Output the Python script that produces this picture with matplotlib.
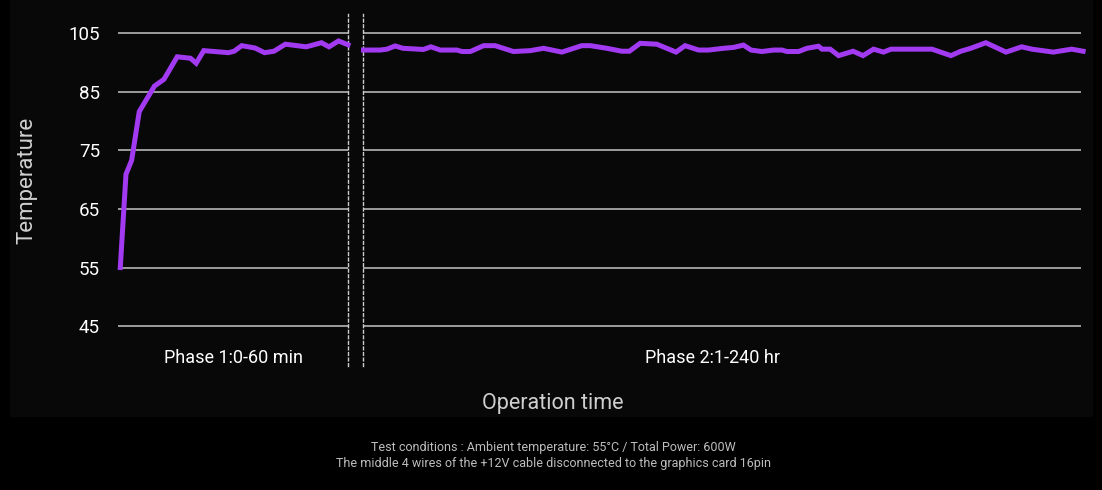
import matplotlib
matplotlib.use("Agg")
import matplotlib.pyplot as plt
import numpy as np
from matplotlib.patches import Rectangle

# data
phase1_min = [0, 1.5, 3, 5, 9, 11.5, 15, 18.5, 20, 22, 28.5, 30, 32, 35.5,
              38, 40.5, 43.5, 49, 53, 55, 57.5, 60]
phase1_temp = [55, 70.9, 73.3, 81.6, 86.9, 89.2, 96.9, 96.4, 94.7, 99.0, 98.3,
               98.8, 100.7, 99.9, 98.3, 98.8, 101.2, 100.3, 101.7, 100.3,
               102.3, 101.0]

phase2_hr = [1, 6.5, 8.8, 11.5, 14.1, 20.9, 23.4, 26.5, 32, 33.7, 36.5, 40.9,
             44.7, 50.8, 56.4, 60.8, 66.9, 73.5, 76.3, 81.8, 86.8, 89.3, 92.9,
             98.4, 104.8, 107.8, 112.3, 115.6, 120.6, 123.9, 127.2, 129.7,
             133.3, 137.2, 140, 141.6, 145.5, 148.3, 152.1, 153.3, 156,
             158.8, 163.6, 166.9, 170.4, 173.7, 176.2, 189.8, 196.1, 199.4,
             202.7, 207.7, 214.4, 219.6, 223, 230.1, 236.2, 240]
phase2_temp = [99.2, 99.2, 99.5, 100.6, 99.8, 99.4, 100.3, 99.2, 99.2, 98.7,
               98.7, 100.7, 100.7, 98.7, 99.0, 99.8, 98.5, 100.7, 100.7, 99.8,
               98.8, 98.8, 101.5, 101.2, 98.5, 100.7, 99.2, 99.2, 99.8, 100.1,
               100.9, 99.2, 98.7, 99.2, 99.2, 98.7, 98.7, 99.8, 100.5, 99.5,
               99.5, 97.3, 98.8, 97.3, 99.5, 98.5, 99.5, 99.5, 97.3, 98.8,
               99.8, 101.7, 98.5, 100.3, 99.5, 98.5, 99.5, 98.8]

y_ticks = [45, 55, 65, 75, 85, 105]
phase_labels = ["Phase 1:0-60 min", "Phase 2:1-240 hr"]
x_title = "Operation time"
y_title = "Temperature"
footnote = ("Test conditions : Ambient temperature: 55°C / Total Power: 600W\n"
            "The middle 4 wires of the +12V cable disconnected to the graphics card 16pin")

LINE = "#a23af2"
GRID = "#a8a8a8"
FONT = ["Liberation Sans Narrow", "Roboto", "DejaVu Sans"]
plt.rcParams["font.family"] = FONT


# y axis is evenly spaced per tick, so 85 -> 105 takes the same room as 10 degrees
def fwd(y):
    y = np.asarray(y, dtype=float)
    return np.where(y <= 85, (y - 45) / 10, 4 + (y - 85) / 20)


def inv(t):
    t = np.asarray(t, dtype=float)
    return np.where(t <= 4, 45 + 10 * t, 85 + 20 * (t - 4))


W, H = 1102, 490
fig = plt.figure(figsize=(W / 100, H / 100), dpi=100, facecolor="black")
fig.patches.append(Rectangle((10 / W, 1 - 416 / H), 1082 / W, 416 / H,
                             transform=fig.transFigure, color="#080808",
                             zorder=-5))

bottom, height = 1 - 366 / H, 352 / H
ax1 = fig.add_axes([118 / W, bottom, 230 / W, height])
ax2 = fig.add_axes([363.5 / W, bottom, 717.5 / W, height])

for ax in (ax1, ax2):
    ax.set_zorder(2)
    ax.set_facecolor("none")
    ax.set_yscale("function", functions=(fwd, inv))
    ax.set_ylim(38.2, 111.5)
    ax.set_yticks(y_ticks)
    ax.grid(axis="y", color=GRID, lw=1.3)
    ax.set_axisbelow(True)
    ax.set_xticks([])
    ax.tick_params(axis="y", length=0)
    for s in ax.spines.values():
        s.set_visible(False)

ax1.plot(phase1_min, phase1_temp, color=LINE, lw=3.6, solid_joinstyle="miter",
         clip_on=False, zorder=3)
ax1.set_xlim(-0.6, 60)
ax1.set_yticklabels([str(v) for v in y_ticks])
ax1.tick_params(axis="y", pad=13, labelsize=13.5, labelcolor="white")
ax1.set_ylabel(y_title, color="#d0d0d0", fontsize=16)
ax1.yaxis.set_label_coords(-0.35, 0.528)
ax1.spines["right"].set_visible(True)
ax1.spines["right"].set_linestyle((0, (2, 2)))
ax1.spines["right"].set_color("#cccccc")
ax1.spines["right"].set_linewidth(1)

ax2.plot(phase2_hr, phase2_temp, color=LINE, lw=3.6, solid_joinstyle="miter",
         clip_on=False, zorder=3)
ax2.set_xlim(1, 239.3)
ax2.tick_params(axis="y", labelleft=False)
ax2.spines["left"].set_visible(True)
ax2.spines["left"].set_linestyle((0, (2, 2)))
ax2.spines["left"].set_color("#cccccc")
ax2.spines["left"].set_linewidth(1)

ax1.text(0.5, 8 / 352, phase_labels[0], transform=ax1.transAxes,
         ha="center", va="center", color="white", fontsize=13)
ax2.text(0.486, 8 / 352, phase_labels[1], transform=ax2.transAxes,
         ha="center", va="center", color="white", fontsize=13)

fig.text(553 / W, 1 - 403 / H, x_title, ha="center", va="center",
         color="#cfcfcf", fontsize=15.5)
fig.text(553 / W, 1 - 455 / H, footnote, ha="center", va="center",
         color="#bdbdbd", fontsize=9, linespacing=1.3)

fig.savefig("out.png", dpi=100, facecolor="black")
